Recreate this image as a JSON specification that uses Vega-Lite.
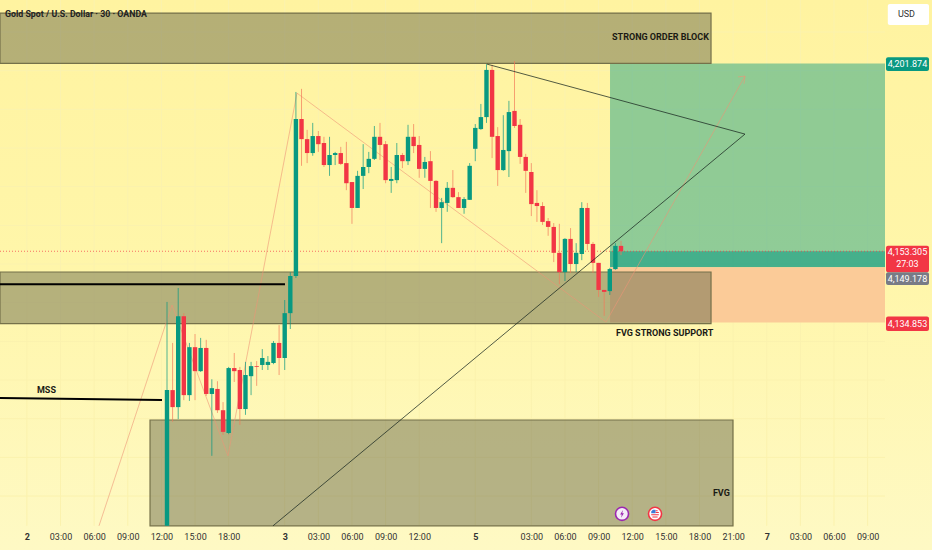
{
"$schema":"https://vega.github.io/schema/vega-lite/v6.json",
"width":932,"height":550,"autosize":"none","padding":0,
"background":"#fff5a8",
"config":{"view":{"stroke":null,"fill":{"gradient":"linear","x1":0,"x2":0,"y1":0,"y2":1,"stops":[{"offset":0,"color":"#fff3a0"},{"offset":0.5,"color":"#fff6aa"},{"offset":1,"color":"#fef9c4"}]}}},
"datasets":{
"candles":[
{"x":0,"o":4082.3,"c":4117.4,"h":4140.2,"l":4082.3},{"x":1,"o":4117.4,"c":4113.0,"h":4129.6,"l":4109.2},{"x":2,"o":4113.0,"c":4136.5,"h":4143.8,"l":4109.9},{"x":3,"o":4136.5,"c":4116.1,"h":4137.3,"l":4114.8},{"x":4,"o":4116.1,"c":4128.5,"h":4129.6,"l":4114.6},{"x":5,"o":4128.5,"c":4122.3,"h":4131.9,"l":4114.8},{"x":6,"o":4122.3,"c":4128.3,"h":4130.9,"l":4122.1},{"x":7,"o":4128.3,"c":4116.4,"h":4130.4,"l":4115.9},{"x":8,"o":4116.4,"c":4117.9,"h":4120.2,"l":4100.4},{"x":9,"o":4117.7,"c":4112.2,"h":4119.7,"l":4111.5},
{"x":10,"o":4112.2,"c":4106.6,"h":4114.3,"l":4105.8},{"x":11,"o":4106.3,"c":4123.1,"h":4123.4,"l":4106.0},{"x":12,"o":4123.1,"c":4122.3,"h":4127.0,"l":4119.5},{"x":13,"o":4122.6,"c":4112.5,"h":4123.4,"l":4108.4},{"x":14,"o":4112.5,"c":4121.3,"h":4124.7,"l":4111.0},{"x":15,"o":4121.0,"c":4123.6,"h":4124.7,"l":4116.1},{"x":16,"o":4123.6,"c":4123.4,"h":4124.9,"l":4118.5},{"x":17,"o":4123.9,"c":4125.7,"h":4128.0,"l":4122.6},{"x":18,"o":4123.9,"c":4124.7,"h":4126.2,"l":4122.6},{"x":19,"o":4124.4,"c":4129.6,"h":4130.1,"l":4124.1},
{"x":20,"o":4129.6,"c":4125.7,"h":4134.2,"l":4121.3},{"x":21,"o":4125.7,"c":4137.3,"h":4140.7,"l":4122.6},{"x":22,"o":4137.3,"c":4146.9,"h":4147.9,"l":4133.2},{"x":23,"o":4146.9,"c":4187.5,"h":4194.5,"l":4146.4},{"x":24,"o":4187.5,"c":4182.3,"h":4195.3,"l":4175.4},{"x":25,"o":4182.3,"c":4178.7,"h":4184.7,"l":4176.1},{"x":26,"o":4178.7,"c":4183.1,"h":4186.5,"l":4178.0},{"x":27,"o":4183.1,"c":4181.0,"h":4184.4,"l":4179.0},{"x":28,"o":4181.3,"c":4175.6,"h":4182.9,"l":4175.1},{"x":29,"o":4175.6,"c":4178.2,"h":4182.9,"l":4172.8},
{"x":30,"o":4178.2,"c":4178.7,"h":4179.0,"l":4175.6},{"x":31,"o":4178.7,"c":4175.9,"h":4180.3,"l":4175.6},{"x":32,"o":4176.1,"c":4170.9,"h":4181.6,"l":4169.1},{"x":33,"o":4171.2,"c":4164.5,"h":4171.2,"l":4160.4},{"x":34,"o":4164.5,"c":4172.8,"h":4174.1,"l":4164.5},{"x":35,"o":4172.8,"c":4175.1,"h":4181.0,"l":4169.4},{"x":36,"o":4175.1,"c":4177.2,"h":4179.0,"l":4173.5},{"x":37,"o":4177.2,"c":4182.9,"h":4185.7,"l":4176.9},{"x":38,"o":4182.9,"c":4180.8,"h":4186.5,"l":4176.9},{"x":39,"o":4181.0,"c":4171.7,"h":4181.8,"l":4170.9},
{"x":40,"o":4171.5,"c":4172.0,"h":4175.1,"l":4168.4},{"x":41,"o":4171.7,"c":4178.2,"h":4181.3,"l":4170.9},{"x":42,"o":4178.2,"c":4176.6,"h":4178.7,"l":4174.8},{"x":43,"o":4176.6,"c":4182.9,"h":4186.0,"l":4175.6},{"x":44,"o":4182.9,"c":4180.5,"h":4186.2,"l":4178.7},{"x":45,"o":4180.8,"c":4174.6,"h":4183.1,"l":4172.3},{"x":46,"o":4174.6,"c":4176.4,"h":4177.7,"l":4172.3},{"x":47,"o":4176.6,"c":4171.5,"h":4179.2,"l":4164.5},{"x":48,"o":4171.5,"c":4164.5,"h":4171.7,"l":4163.5},{"x":49,"o":4164.5,"c":4166.0,"h":4167.1,"l":4155.4},
{"x":50,"o":4165.8,"c":4169.7,"h":4171.2,"l":4163.5},{"x":51,"o":4169.7,"c":4167.3,"h":4174.3,"l":4167.1},{"x":52,"o":4167.3,"c":4164.5,"h":4168.6,"l":4164.5},{"x":53,"o":4164.5,"c":4166.8,"h":4167.3,"l":4163.0},{"x":54,"o":4166.6,"c":4175.4,"h":4176.1,"l":4166.6},{"x":55,"o":4179.8,"c":4185.2,"h":4186.2,"l":4176.6},{"x":56,"o":4184.9,"c":4188.0,"h":4191.4,"l":4184.7},{"x":57,"o":4188.0,"c":4200.2,"h":4201.7,"l":4186.5},{"x":58,"o":4200.2,"c":4182.9,"h":4201.5,"l":4177.4},{"x":59,"o":4183.1,"c":4174.3,"h":4185.4,"l":4170.2},
{"x":60,"o":4174.3,"c":4179.5,"h":4188.5,"l":4174.1},{"x":61,"o":4179.2,"c":4189.3,"h":4192.2,"l":4172.5},{"x":62,"o":4189.6,"c":4185.7,"h":4202.5,"l":4185.2},{"x":63,"o":4186.0,"c":4177.7,"h":4187.5,"l":4175.9},{"x":64,"o":4177.7,"c":4174.1,"h":4178.5,"l":4168.4},{"x":65,"o":4173.8,"c":4165.5,"h":4176.1,"l":4162.4},{"x":66,"o":4165.8,"c":4165.0,"h":4169.1,"l":4160.9},{"x":67,"o":4165.0,"c":4160.9,"h":4166.0,"l":4160.1},{"x":68,"o":4161.1,"c":4159.6,"h":4161.9,"l":4157.3},{"x":69,"o":4159.6,"c":4152.9,"h":4160.6,"l":4150.5},
{"x":70,"o":4152.9,"c":4147.9,"h":4160.4,"l":4144.8},{"x":71,"o":4147.9,"c":4156.5,"h":4156.7,"l":4145.6},{"x":72,"o":4156.5,"c":4150.0,"h":4159.3,"l":4147.7},{"x":73,"o":4150.0,"c":4152.9,"h":4155.4,"l":4147.9},{"x":74,"o":4152.6,"c":4164.5,"h":4166.0,"l":4151.0},{"x":75,"o":4164.5,"c":4155.2,"h":4165.8,"l":4153.6},{"x":76,"o":4155.2,"c":4150.3,"h":4155.7,"l":4147.7},{"x":77,"o":4150.3,"c":4143.3,"h":4150.3,"l":4141.5},{"x":78,"o":4143.3,"c":4142.8,"h":4143.3,"l":4136.6},{"x":79,"o":4143.0,"c":4148.7,"h":4149.0,"l":4142.0},
{"x":80,"o":4148.7,"c":4154.7,"h":4155.4,"l":4148.5},{"x":81,"o":4154.7,"c":4153.3,"h":4156.0,"l":4152.3}
],
"grid":[
{"x":-29.795,"x2":128.1,"y":4210,"y2":4210},{"x":-29.795,"x2":128.1,"y":4200,"y2":4200},{"x":-29.795,"x2":128.1,"y":4190,"y2":4190},{"x":-29.795,"x2":128.1,"y":4180,"y2":4180},{"x":-29.795,"x2":128.1,"y":4170,"y2":4170},{"x":-29.795,"x2":128.1,"y":4160,"y2":4160},{"x":-29.795,"x2":128.1,"y":4150,"y2":4150},{"x":-29.795,"x2":128.1,"y":4140,"y2":4140},{"x":-29.795,"x2":128.1,"y":4130,"y2":4130},{"x":-29.795,"x2":128.1,"y":4120,"y2":4120},{"x":-29.795,"x2":128.1,"y":4110,"y2":4110},{"x":-29.795,"x2":128.1,"y":4100,"y2":4100},{"x":-29.795,"x2":128.1,"y":4090,"y2":4090},
{"x":-25,"x2":-25,"y":4082.3,"y2":4218.28},{"x":-19,"x2":-19,"y":4082.3,"y2":4218.28},{"x":-13,"x2":-13,"y":4082.3,"y2":4218.28},{"x":-7,"x2":-7,"y":4082.3,"y2":4218.28},{"x":-1,"x2":-1,"y":4082.3,"y2":4218.28},{"x":5,"x2":5,"y":4082.3,"y2":4218.28},{"x":11,"x2":11,"y":4082.3,"y2":4218.28},{"x":21,"x2":21,"y":4082.3,"y2":4218.28},{"x":27,"x2":27,"y":4082.3,"y2":4218.28},{"x":33,"x2":33,"y":4082.3,"y2":4218.28},{"x":39,"x2":39,"y":4082.3,"y2":4218.28},{"x":45,"x2":45,"y":4082.3,"y2":4218.28},{"x":55,"x2":55,"y":4082.3,"y2":4218.28},{"x":65,"x2":65,"y":4082.3,"y2":4218.28},{"x":71,"x2":71,"y":4082.3,"y2":4218.28},{"x":77,"x2":77,"y":4082.3,"y2":4218.28},{"x":83,"x2":83,"y":4082.3,"y2":4218.28},{"x":89,"x2":89,"y":4082.3,"y2":4218.28},{"x":95,"x2":95,"y":4082.3,"y2":4218.28},{"x":101,"x2":101,"y":4082.3,"y2":4218.28},{"x":107,"x2":107,"y":4082.3,"y2":4218.28},{"x":113,"x2":113,"y":4082.3,"y2":4218.28},{"x":119,"x2":119,"y":4082.3,"y2":4218.28},{"x":125,"x2":125,"y":4082.3,"y2":4218.28}
],
"target":[{"x":79.04,"x2":128.1,"y":4201.874,"y2":4149.178}],
"strip":[{"x":79.04,"x2":128.1,"y":4153.305,"y2":4149.178}],
"stop":[{"x":79.04,"x2":128.1,"y":4149.178,"y2":4134.853}],
"zones":[
{"name":"STRONG ORDER BLOCK","x":-29.795,"x2":97.06,"y":4214.9,"y2":4201.874},
{"name":"FVG STRONG SUPPORT","x":-29.795,"x2":97.06,"y":4147.94,"y2":4134.6},
{"name":"FVG","x":-3.03,"x2":100.98,"y":4109.67,"y2":4082.3}
],
"priceLine":[{"x":-29.795,"x2":128.1,"y":4153.305,"y2":4153.305}],
"thick":[
{"g":"a","n":1,"x":-29.795,"y":4144.8},{"g":"a","n":2,"x":21.05,"y":4144.8},
{"g":"mss","n":1,"x":-29.795,"y":4115.35},{"g":"mss","n":2,"x":-0.89,"y":4114.84}
],
"trend":[
{"g":"t","n":1,"x":57.09,"y":4201.7},{"g":"t","n":2,"x":103.12,"y":4183.6},{"g":"t","n":3,"x":18.91,"y":4082.3}
],
"zigzag":[
{"g":"z","n":1,"x":-12.13,"y":4082.3},{"g":"z","n":2,"x":0.89,"y":4139.4},{"g":"z","n":3,"x":10.88,"y":4100.4},{"g":"z","n":4,"x":23.19,"y":4194.2},{"g":"z","n":5,"x":78.32,"y":4135.0},{"g":"z","n":6,"x":103.12,"y":4198.6},
{"g":"h","n":1,"x":101.87,"y":4198.4},{"g":"h","n":2,"x":103.12,"y":4198.6},{"g":"h","n":3,"x":102.94,"y":4196.6}
],
"tags":[
{"k":"usd","x":128.6,"x2":135.95,"y":4217.25,"y2":4211.8},
{"k":"up","x":128.28,"x2":135.95,"y":4203.5,"y2":4199.9},
{"k":"down","x":128.28,"x2":135.95,"y":4154.7,"y2":4147.9},
{"k":"gray","x":128.28,"x2":135.95,"y":4147.9,"y2":4144.6},
{"k":"down","x":128.28,"x2":135.95,"y":4136.43,"y2":4132.68}
],
"tagText":[
{"x":132.1,"y":4201.7,"t":"4,201.874"},{"x":132.1,"y":4153.2,"t":"4,153.305"},{"x":132.1,"y":4150.1,"t":"27:03"},{"x":132.1,"y":4146.25,"t":"4,149.178"},{"x":132.1,"y":4134.55,"t":"4,134.853"}
],
"usd":[{"x":130.4,"y":4214.6,"t":"USD"}],
"notes":[
{"x":79.4,"y":4208.7,"t":"STRONG ORDER BLOCK"},{"x":80.1,"y":4132.2,"t":"FVG STRONG SUPPORT"},{"x":97.4,"y":4090.8,"t":"FVG"},{"x":-23.2,"y":4117.4,"t":"MSS"}
],
"title":[{"x":-28.9,"y":4214.66,"t":"Gold Spot / U.S. Dollar · 30 · OANDA"}],
"bolt":[{"x":81.18,"y":4085.4}],
"flag":[{"x":87.07,"y":4085.4}]
},
"encoding":{
"x":{"field":"x","type":"quantitative","scale":{"domain":[-29.795,136.485],"nice":false,"zero":false,"padding":0},
"axis":{"title":null,"orient":"bottom","offset":-24,"domain":false,"ticks":false,"grid":false,"labelPadding":6,"labelFont":"Roboto","labelFontSize":9,"labelColor":"#333333","labelOverlap":false,"labelFlush":false,
"values":[-25,-19,-13,-7,-1,5,11,21,27,33,39,45,55,65,71,77,83,89,95,101,107,113,119,125],
"labelExpr":"({'-25':'2','-19':'03:00','-13':'06:00','-7':'09:00','-1':'12:00','5':'15:00','11':'18:00','21':'3','27':'03:00','33':'06:00','39':'09:00','45':'12:00','55':'5','65':'03:00','71':'06:00','77':'09:00','83':'12:00','89':'15:00','95':'18:00','101':'21:00','107':'7','113':'03:00','119':'06:00','125':'09:00'})[''+datum.value]",
"labelFontWeight":{"condition":{"test":"indexof([-25,21,55,107],datum.value)>=0","value":"bold"},"value":"normal"}}},
"y":{"field":"y","type":"quantitative","scale":{"domain":[4076.05,4218.28],"nice":false,"zero":false,"padding":0},
"axis":{"title":null,"orient":"right","offset":-47,"domain":false,"ticks":false,"grid":false,"labelPadding":5,"labelFont":"Roboto","labelFontSize":9,"labelColor":"#333333","labelOverlap":false,"labelFlush":false,"format":",.3f",
"values":[4210,4200,4190,4180,4170,4160,4140,4130,4120,4110,4100,4090],
"labelFontWeight":{"condition":{"test":"datum.value==4100","value":"bold"},"value":"normal"}}}
},
"layer":[
{"data":{"name":"grid"},"mark":{"type":"rule","stroke":"#fbf2ae","strokeWidth":1},"encoding":{"x2":{"field":"x2"},"y2":{"field":"y2"}}},
{"data":{"name":"target"},"mark":{"type":"rect","fill":"#089981","opacity":0.45},"encoding":{"x2":{"field":"x2"},"y2":{"field":"y2"}}},
{"data":{"name":"strip"},"mark":{"type":"rect","fill":"#089981","opacity":0.55},"encoding":{"x2":{"field":"x2"},"y2":{"field":"y2"}}},
{"data":{"name":"stop"},"mark":{"type":"rect","fill":"#fbcb98"},"encoding":{"x2":{"field":"x2"},"y2":{"field":"y2"}}},
{"data":{"name":"zones"},"mark":{"type":"rect","fill":"#6b6b4b","fillOpacity":0.5,"stroke":"#75714a","strokeWidth":1.2},"encoding":{"x2":{"field":"x2"},"y2":{"field":"y2"}}},
{"data":{"name":"priceLine"},"mark":{"type":"rule","stroke":"#f23645","strokeWidth":1,"strokeDash":[1,2],"opacity":0.7},"encoding":{"x2":{"field":"x2"}}},
{"data":{"name":"zigzag"},"mark":{"type":"line","stroke":"#ee9476","strokeWidth":0.9,"opacity":0.65},"encoding":{"detail":{"field":"g"},"order":{"field":"n"}}},
{"data":{"name":"candles"},"mark":{"type":"rule","strokeWidth":1,"opacity":0.7},"encoding":{
"y":{"field":"h","type":"quantitative","scale":{"domain":[4076.05,4218.28],"nice":false,"zero":false,"padding":0},"axis":null},"y2":{"field":"l"},
"color":{"condition":{"test":"datum.c>=datum.o","value":"#089981"},"value":"#f27a5a"}}},
{"data":{"name":"candles"},"mark":{"type":"bar","size":4.4},"encoding":{
"y":{"field":"o","type":"quantitative","scale":{"domain":[4076.05,4218.28],"nice":false,"zero":false,"padding":0},"axis":null},"y2":{"field":"c"},
"color":{"condition":{"test":"datum.c>=datum.o","value":"#089981"},"value":"#f23645"}}},
{"data":{"name":"thick"},"mark":{"type":"line","stroke":"#000000","strokeWidth":2},"encoding":{"detail":{"field":"g"},"order":{"field":"n"}}},
{"data":{"name":"trend"},"mark":{"type":"line","stroke":"#1c2a22","strokeWidth":0.9,"opacity":0.85},"encoding":{"detail":{"field":"g"},"order":{"field":"n"}}},
{"data":{"name":"tags"},"mark":{"type":"rect","cornerRadius":2},"encoding":{"x2":{"field":"x2"},"y2":{"field":"y2"},"color":{"field":"k","type":"nominal","legend":null,"scale":{"domain":["usd","up","down","gray"],"range":["#ffffff","#089981","#f23645","#787b86"]}}}},
{"data":{"name":"tagText"},"mark":{"type":"text","color":"#ffffff","font":"Roboto","fontSize":9,"align":"center","baseline":"middle"},"encoding":{"text":{"field":"t"}}},
{"data":{"name":"usd"},"mark":{"type":"text","color":"#333333","font":"Roboto","fontSize":9,"align":"left","baseline":"middle"},"encoding":{"text":{"field":"t"}}},
{"data":{"name":"notes"},"mark":{"type":"text","color":"#1a1a14","font":"Roboto","fontSize":9,"fontWeight":"bold","align":"left","baseline":"middle"},"encoding":{"text":{"field":"t"}}},
{"data":{"name":"title"},"mark":{"type":"text","color":"#222222","font":"Roboto","fontSize":8.8,"fontWeight":"bold","align":"left","baseline":"middle"},"encoding":{"text":{"field":"t"}}},
{"data":{"name":"bolt"},"mark":{"type":"point","shape":"circle","size":170,"filled":true,"fill":"#f5ecf8","stroke":"#9c27b0","strokeWidth":1.6,"opacity":1}},
{"data":{"name":"bolt"},"mark":{"type":"point","shape":"M0.2,-0.8L-0.4,0.15L-0.05,0.15L-0.2,0.8L0.4,-0.15L0.05,-0.15Z","size":90,"filled":true,"fill":"#9c27b0","opacity":1}},
{"data":{"name":"flag"},"mark":{"type":"point","shape":"circle","size":170,"filled":true,"fill":"#ffffff","stroke":"#f23645","strokeWidth":1.6,"opacity":1}},
{"data":{"name":"flag"},"mark":{"type":"point","shape":"M-0.8,0.1H0.8V0.3H-0.8ZM-0.55,0.55H0.55V0.75H-0.55ZM0.1,-0.4H0.8V-0.2H0.1ZM0.1,-0.75H0.55V-0.55H0.1Z","size":90,"filled":true,"fill":"#f23645","opacity":1}},
{"data":{"name":"flag"},"mark":{"type":"point","shape":"M-0.8,-0.1V-0.5L-0.45,-0.85H0.1V-0.1Z","size":90,"filled":true,"fill":"#3d7bd9","opacity":1}}
]
}
